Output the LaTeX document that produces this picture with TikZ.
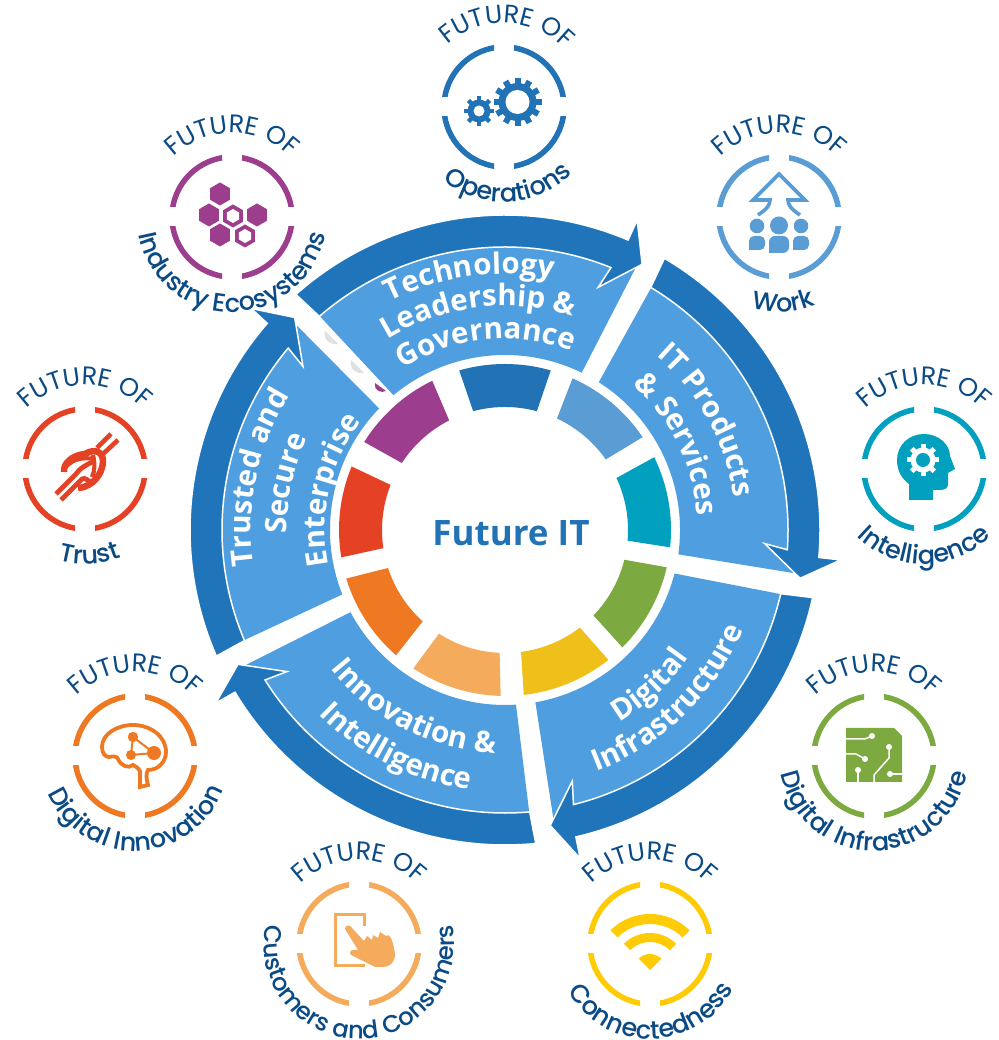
\documentclass[tikz,border=0pt]{standalone}
\usepackage{fontspec}
\usetikzlibrary{decorations.text}
\newfontfamily\segf{Open Sans}
\newfontfamily\popr{Poppins}
\newfontfamily\popm{Poppins Medium}
\definecolor{bandblue}{HTML}{2074BA}
\definecolor{segblue}{HTML}{4F9FE0}
\definecolor{navy}{HTML}{0A4A85}
\definecolor{cOps}{HTML}{2272B6}
\definecolor{cWork}{HTML}{5A9DD5}
\definecolor{cInt}{HTML}{00A0BE}
\definecolor{cDig}{HTML}{7CAA41}
\definecolor{cCon}{HTML}{EFBF1A}
\definecolor{cConIcon}{HTML}{FFCB05}
\definecolor{cCus}{HTML}{F5AB5C}
\definecolor{cInn}{HTML}{EE7922}
\definecolor{cTru}{HTML}{E54225}
\definecolor{cInd}{HTML}{9C3D8D}
\tikzset{
  segband/.style={draw=white,line width=1.5pt,fill=bandblue,line join=miter},
  segpanel/.style={fill=segblue},
  iconstroke/.style={line width=3.8pt},
}
% top-side arc text (clockwise), r, centre angle, format, text
\newcommand\cwtext[4]{\path[decorate,decoration={text along path,text align=center,text={|#3|#4}}]
  ({#2+110}:#1) arc[start angle={#2+110},end angle={#2-110},radius=#1];}
% bottom-side arc text (counter-clockwise)
\newcommand\ccwtext[4]{\path[decorate,decoration={text along path,text align=center,text={|#3|#4}}]
  ({#2-140}:#1) arc[start angle={#2-140},end angle={#2+140},radius=#1];}
\newcommand\segfmt{\segf\bfseries\fontsize{29.5}{30}\selectfont\color{white}}
\newcommand\futfmt{\popr\fontsize{25.5}{26}\selectfont\color{navy}}
\newcommand\labsz{25.5}
\newcommand\labfmt{\popm\fontsize{\labsz}{26}\selectfont\color{navy}}
% ring with four quadrants and lettering: x,y,colour,future angle,label angle,label
\newcommand\futring[6]{
  \begin{scope}[shift={(#1,#2)}]
    \foreach \sx/\sy in {1/1,-1/1,-1/-1,1/-1}{
      \begin{scope}
        \clip (10*\sx,10*\sy) rectangle (70*\sx,70*\sy);
        \draw[#3,line width=5.5pt] (0,0) circle[radius=60];
      \end{scope}
    }
    \cwtext{84}{#4}{\futfmt}{FUTURE OF}
    \ccwtext{95}{#5}{\labfmt}{#6}
  \end{scope}}
\newcommand\gearicon[7]{% x,y,rout,rroot,rhole,teeth,width
  \begin{scope}[shift={(#1,#2)}]
    \fill (0,0) circle[radius=#4];
    \foreach \t in {1,...,#6}{
      \fill[rotate={\t*360/#6}] ({-#7/2},0) rectangle ({#7/2},#3);
    }
    \fill[white] (0,0) circle[radius=#5];
  \end{scope}}
\newcommand\hexa[3]{\fill[#3] (#1) ++(30:#2) -- ++(150:#2) -- ++(210:#2) -- ++(270:#2) -- ++(330:#2) -- ++(30:#2) -- cycle;}
\begin{document}
\begin{tikzpicture}[x=1pt,y=1pt]
\useasboundingbox (0,0) rectangle (998,1040);
\fill[white] (0,0) rectangle (998,1040);
% ---- central wheel ----
\begin{scope}[shift={(505,510)}]
  \foreach \rot in {0,-72,-144,-216,-288}{
    \begin{scope}[rotate=\rot]
      \fill[segpanel] (129.6:175) arc[start angle=129.6,end angle=64,radius=175]
        -- (63.5:297) arc[start angle=63.5,end angle=131,radius=297] -- cycle;
      \path[segband] (131.6:315) arc[start angle=131.6,end angle=67,radius=315]
        -- (66.9:337) -- (62.7:299) -- (69:260) -- (68:283)
        arc[start angle=68,end angle=131,radius=283] -- cycle;
    \end{scope}
  }
  \foreach \ang/\col in {90/cOps,50/cWork,10/cInt,-29/cDig,-67.5/cCon,-107.5/cCus,-147/cInn,-186.5/cTru,-228/cInd}{
    \fill[\col] ({\ang+15}:123) -- ({\ang+16}:166) arc[start angle={\ang+16},end angle={\ang-16},radius=166]
      -- ({\ang-15}:123) arc[start angle={\ang-15},end angle={\ang+15},radius=123] -- cycle;
  }
  \cwtext{256}{98}{\segfmt}{Technology}
  \cwtext{224}{97}{\segfmt}{Leadership {\&}}
  \cwtext{191}{96}{\segfmt}{Governance}
  \cwtext{231}{28.5}{\segfmt}{IT Products}
  \cwtext{193}{26.5}{\segfmt}{{\&} Services}
  \ccwtext{224}{-47}{\segfmt}{Digital}
  \ccwtext{258}{-46}{\segfmt}{Infrastructure}
  \ccwtext{223}{-117}{\segfmt}{Innovation {\&}}
  \ccwtext{262}{-116.5}{\segfmt}{Intelligence}
  \cwtext{254}{168}{\segfmt}{Trusted and}
  \cwtext{218}{168}{\segfmt}{Secure}
  \cwtext{180}{167}{\segfmt}{Enterprise}
\end{scope}
\node[font=\segf\bfseries\fontsize{35}{35}\selectfont,text=cOps] (futureit) at (511,507) {Future IT};
% stray marks in the gap
\fill[black!12] (325,709) .. controls (323,700) and (330,695) .. (338,696) -- cycle;
\fill[black!12] (351,680) .. controls (349,671) and (356,666) .. (364,667) -- cycle;
\fill[cInd] (375,657) .. controls (374,648) and (382,647) .. (386,649) -- cycle;
% ---- outer badges ----
\futring{504}{933}{cOps}{88}{-87}{Operations}
\futring{779}{823}{cWork}{90}{-87}{Work}
\futring{924}{571}{cInt}{90}{-90}{Intelligence}
\futring{874}{284}{cDig}{90}{-90}{Digital Infrastructure}
\futring{650}{96}{cConIcon}{90}{-89}{Connectedness}
{\renewcommand\labsz{24.3}\futring{359}{96}{cCus}{90}{-90}{Customers and Consumers}}
\futring{135}{284}{cInn}{90}{-89}{Digital Innovation}
\futring{85}{571}{cTru}{90}{-87}{Trust}
\futring{232}{823}{cInd}{90}{-90}{Industry Ecosystems}
% gears
\begin{scope}[fill=cOps]
  \gearicon{517.5}{938}{24}{19}{12}{12}{6}
  \gearicon{479}{929}{15}{11.5}{5.5}{8}{4.5}
\end{scope}
% work
\begin{scope}[shift={(779,823)},cWork]
  \draw[line width=3.6pt,miter limit=10] (-21,2) .. controls (-12,8) and (-9,12) .. (-9,17) -- (-26,17) -- (0,43) -- (26,17) -- (9,17) .. controls (9,12) and (12,8) .. (21,2);
  \fill (-22,-9) circle[radius=7.3];
  \fill (0,-8.5) circle[radius=9];
  \fill (22,-9) circle[radius=7.3];
  \fill[rounded corners=5pt] (-30,-33) -- (-30,-19) -- (-14,-19) -- (-14,-33) [sharp corners] -- cycle;
  \fill[rounded corners=6pt] (-10,-36) -- (-10,-19) -- (10,-19) -- (10,-36) [sharp corners] -- cycle;
  \fill[rounded corners=5pt] (14,-33) -- (14,-19) -- (30,-19) -- (30,-33) [sharp corners] -- cycle;
\end{scope}
% intelligence head
\begin{scope}[shift={(924,571)}]
  \fill[cInt] (-15,-31) -- (-15,-15) .. controls (-22,-10) and (-27,-2) .. (-27,9) .. controls (-27,24) and (-15,35) .. (0,35) .. controls (14,35) and (26,25) .. (26,13) -- (31,0) -- (24,-4) -- (24,-15) .. controls (24,-19) and (21,-21) .. (18,-21) -- (9,-21) -- (9,-31) -- cycle;
  \begin{scope}[fill=white]
    \foreach \t in {1,...,8}{\fill[shift={(-1,9)},rotate={\t*45}] (-2.5,0) rectangle (2.5,16);}
    \fill (-1,9) circle[radius=12.5];
    \fill[cInt] (-1,9) circle[radius=7];
  \end{scope}
\end{scope}
% digital infrastructure chip
\begin{scope}[shift={(874,284)}]
  \fill[cDig] (-28,-26) -- (-28,28) -- (20,28) -- (28,20) -- (28,-26) -- cycle;
  \draw[white,line width=1.5pt] (-28,17) -- (-9,17) -- (-2,20);
  \fill[white] (-2,20) circle[radius=3];
  \draw[white,line width=1.5pt] (-28,2) -- (-18,2) -- (-9,-3);
  \fill[white] (-9,-3) circle[radius=3];
  \draw[white,line width=1.5pt] (-16,-26) -- (-16,-14);
  \fill[white] (-16,-14) circle[radius=3];
  \draw[white,line width=1.5pt] (0,-26) -- (0,-19) -- (15,-2) -- (15,9);
  \fill[white] (15,9) circle[radius=3];
  \draw[white,line width=1.5pt] (28,-18) -- (16,-18);
  \fill[white] (16,-18) circle[radius=3];
\end{scope}
% wifi
\begin{scope}[shift={(650,70)},cConIcon]
  \fill (0,0) -- (135:16) arc[start angle=135,end angle=45,radius=16] -- cycle;
  \fill (135:28) -- (135:37) arc[start angle=135,end angle=45,radius=37] -- (45:28) arc[start angle=45,end angle=135,radius=28] -- cycle;
  \fill (135:46) -- (135:56) arc[start angle=135,end angle=45,radius=56] -- (45:46) arc[start angle=45,end angle=135,radius=46] -- cycle;
\end{scope}
% tablet and hand
\begin{scope}[shift={(359,96)},cCus]
  \draw[line width=3.4pt] (5.5,18) -- (5.5,29.5) -- (-23.5,29.5) -- (-23.5,-21.5) -- (5.5,-21.5);
  \fill[line join=round] (-14,15) .. controls (-14,19) and (-9,20) .. (-7,16) -- (5,3) -- (8,8) -- (13,4) -- (14,9) -- (19,6) -- (21,12) -- (27,8) .. controls (32,12) and (35,-2) .. (36,-10) .. controls (36,-18) and (31,-23) .. (24,-23) -- (16,-23) -- (-6,-12) .. controls (-10,-11) and (-10,-6) .. (-6,-6) -- (-1,-6) -- cycle;
\end{scope}
% brain
\begin{scope}[shift={(135,284)},cInn]
  \draw[iconstroke,line join=miter] (5,-31) -- (13,-29) .. controls (11,-22) and (11,-17) .. (13,-14) .. controls (24,-14) and (31,-5) .. (31,4) .. controls (31,20) and (15,31) .. (-2,31) .. controls (-18,31) and (-33,22) .. (-33,9) .. controls (-33,3) and (-30,-1) .. (-26,-1) .. controls (-22,0) and (-18,0) .. (-17,-3) .. controls (-14,-10) and (-6,-13) .. (-2,-9) .. controls (2,-11) and (6,-14) .. (5,-18) -- cycle;
  \draw[line width=2pt] (-2,19) -- (-4,1) -- (19,3) -- cycle;
  \fill (-2,19) circle[radius=5.2];
  \fill (-4,1) circle[radius=5];
  \fill (19,3) circle[radius=7];
\end{scope}
% knot
\begin{scope}[shift={(85,571)},cTru]
  \draw[line width=4.6pt] (12,21) -- (26,35);
  \draw[line width=4.6pt] (18,15) -- (33,29);
  \draw[line width=6.5pt] (-21,-3) .. controls (-22,6) and (-12,14) .. (0,15) .. controls (10,21) and (18,17) .. (18,8) .. controls (18,-3) and (9,-18) .. (-7,-19);
  \draw[line width=4.8pt] (-29,-25) -- (-9,-5) .. controls (-6,0) and (2,5) .. (8,7);
  \draw[line width=4.8pt] (-24,-31) -- (-3,-10) .. controls (0,-8) and (3,-12) .. (6,-13);
  \draw[line width=4.2pt] (8,14) .. controls (10,6) and (10,-2) .. (7,-8);
  \draw[line width=4.2pt] (-18,3) .. controls (-12,10) and (-2,12) .. (9,10);
\end{scope}
% hexagons
\begin{scope}[shift={(232,823)}]
  \hexa{-12,23}{11.5}{cInd}
  \hexa{-23,2}{11.5}{cInd}
  \hexa{25,2}{11.5}{cInd}
  \hexa{-12,-18}{11.5}{cInd}
  \hexa{1,1}{11.5}{cInd}
  \hexa{1,1}{7}{white}
  \hexa{13,-19}{11.5}{cInd}
  \hexa{13,-19}{7}{white}
\end{scope}
\end{tikzpicture}
\end{document}
